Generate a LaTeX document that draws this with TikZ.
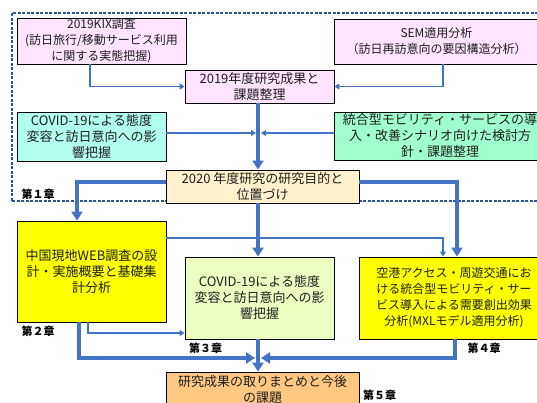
\documentclass[tikz,border=0pt]{standalone}
\usepackage{fontspec}
\setmainfont{Noto Sans CJK JP}
\usetikzlibrary{arrows.meta,calc}
\definecolor{pinkfill}{RGB}{255,228,255}
\definecolor{cyanfill}{RGB}{178,255,240}
\definecolor{aquafill}{RGB}{160,255,205}
\definecolor{creamfill}{RGB}{255,242,204}
\definecolor{yellowfill}{RGB}{255,255,0}
\definecolor{limefill}{RGB}{236,255,192}
\definecolor{orangefill}{RGB}{255,200,130}
\definecolor{arrblue}{RGB}{68,114,196}
\definecolor{frameblue}{RGB}{47,84,150}
\definecolor{txt}{RGB}{30,30,30}
\begin{document}
\begin{tikzpicture}[x=1pt,y=-1pt,
  box/.style={draw=black, line width=0.9pt, align=center, inner sep=0pt, text=txt,
    font=\fontsize{13}{16}\selectfont},
  smalltext/.style={font=\fontsize{12}{16}\selectfont},
  thinarr/.style={draw=arrblue, line width=1.5pt, -{Triangle[length=5pt,width=6pt]}},
  thickarr/.style={draw=arrblue, line width=3.5pt, -{Triangle[length=9pt,width=11pt]}},
  chap/.style={inner sep=0pt, text=black, font=\fontsize{11}{11}\selectfont\bfseries},
  frame/.style={draw=frameblue, line width=1.1pt, dash pattern=on 3pt off 1.5pt}
]
\useasboundingbox (0,0) rectangle (537,403);
% dashed chapter-1 frame
\coordinate (fa) at (12,201);
\coordinate (fb) at (12,13);
\coordinate (fc) at (545,13);
\coordinate (fd) at (545,201);
\draw[frame] (fa) -- (fb) -- (fc);
\draw[frame] (fa) -- (fd);

% boxes
\node[box, smalltext, fill=pinkfill, minimum width=169, minimum height=46] (kix) at (101.5,41)
  {2019KIX調査\\(訪日旅行/移動サービス利用\\に関する実態把握)};
\node[box, smalltext, fill=pinkfill, minimum width=205, minimum height=45] (sem) at (436.5,41.5)
  {SEM適用分析\\（訪日再訪意向の要因構造分析）};
\node[box, fill=pinkfill, minimum width=149, minimum height=33] (r2019) at (259.5,86.5)
  {2019年度研究成果と\\課題整理};
\node[box, fill=cyanfill, minimum width=149, minimum height=49] (covid) at (91.5,136.5)
  {COVID-19による態度\\変容と訪日意向への影\\響把握};
\node[box, fill=aquafill, minimum width=212, minimum height=48] (integ) at (440,136)
  {統合型モビリティ・サービスの導\\入・改善シナリオ向けた検討方\\針・課題整理};
\node[box, fill=creamfill, minimum width=193, minimum height=33] (r2020) at (262.5,186.5)
  {2020 年度研究の研究目的と\\位置づけ};
\node[box, fill=yellowfill, minimum width=149, minimum height=101] (ch2) at (91.5,271.5)
  {中国現地WEB調査の設\\計・実施概要と基礎集\\計分析};
\node[box, fill=limefill, minimum width=149, minimum height=82] (ch3) at (259.5,298)
  {COVID-19による態度\\変容と訪日意向への影\\響把握};
\node[box, smalltext, fill=yellowfill, minimum width=190, minimum height=82] (ch4) at (454,298)
  {空港アクセス・周遊交通にお\\ける統合型モビリティ・サー\\ビス導入による需要創出効果\\分析(MXLモデル適用分析)};
\node[box, fill=orangefill, minimum width=193, minimum height=36] (ch5) at (262.5,390)
  {研究成果の取りまとめと今後\\の課題};

% chapter labels
\node[chap] (c1) at (38,194) {第１章};
\node[chap] (c2) at (38,331) {第２章};
\node[chap] (c3) at (205.5,348) {第３章};
\node[chap] (c4) at (484,348) {第４章};
\node[chap] (c5) at (379.5,395) {第５章};

% helper coordinates
\coordinate (spine) at (258,0);
\coordinate (jL) at (256,133);
\coordinate (jR) at (261,133);
\coordinate (t2) at (77,182);
\coordinate (t4) at (457,182);
\coordinate (t5) at (443,238);
\coordinate (t6) at (88,333);
\coordinate (t7) at (79,358);
\coordinate (k7) at (255,358);
\coordinate (t8) at (455,358);
\coordinate (k8) at (261,358);

% connectors
\draw[thinarr] ([xshift=-11.5pt]kix.south) |- (r2019.west);
\draw[thinarr] ([xshift=6.5pt]sem.south) |- (r2019.east);
\draw[thinarr] (jL -| covid.east) -- (jL);
\draw[thinarr] (jR -| integ.west) -- (jR);
\draw[thickarr] (r2019.south -| spine) -- (r2020.north -| spine);
\draw[thinarr] (t5 -| ch2.east) -- (t5) -- (t5 |- ch4.north);
\draw[thickarr] (t2 -| r2020.west) -- (t2) -- (t2 |- ch2.north);
\draw[thickarr] (t4 -| r2020.east) -- (t4) -- (t4 |- ch4.north);
\draw[thickarr] (r2020.south -| spine) -- (ch3.north -| spine);
\draw[thinarr] (t6 |- ch2.south) -- (t6) -- (t6 -| ch3.west);
\draw[thickarr] (t7 |- ch2.south) -- (t7) -- (k7);
\draw[thickarr] (t8 |- ch4.south) -- (t8) -- (k8);
\draw[thickarr] (ch3.south -| spine) -- (ch5.north -| spine);
\end{tikzpicture}
\end{document}
